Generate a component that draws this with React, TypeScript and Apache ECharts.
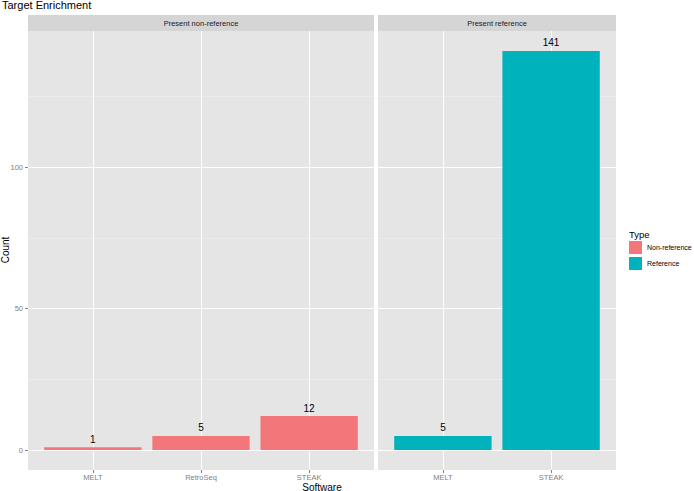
import { useEffect, useRef } from "react";
import * as echarts from "echarts";

const chartTitle = "Target Enrichment";
const panelNames = ["Present non-reference", "Present reference"];
const nonRefSoftware = ["MELT", "RetroSeq", "STEAK"];
const nonRefCounts = [1, 5, 12];
const refSoftware = ["MELT", "STEAK"];
const refCounts = [5, 141];
const typeNames = ["Non-reference", "Reference"];
const typeColors = ["#F3777A", "#00B2BC"];
const yTicks = [0, 50, 100];
const yMinorTicks = [25, 75, 125];
const yMin = -7.05;
const yMax = 148.05;

const font = "'Liberation Sans', Arial, Helvetica, sans-serif";
const axisGrey = "#7f7f7f";

const panels = [
  { left: 28, width: 346, cats: nonRefSoftware, counts: nonRefCounts },
  { left: 378, width: 238, cats: refSoftware, counts: refCounts },
];
const gridTop = 31;
const gridHeight = 439;

export default function App() {
  const ref = useRef<HTMLDivElement>(null);
  useEffect(() => {
    if (!ref.current) return;
    const chart = echarts.init(ref.current, null, { renderer: "svg" });

    const grids = panels.map((p) => ({
      left: p.left,
      top: gridTop,
      width: p.width,
      height: gridHeight,
      show: true,
      backgroundColor: "#e5e5e5",
      borderWidth: 0,
    }));

    const xAxes = panels.map((p, gi) => {
      const pos = p.cats.map((_, i) => i + 1);
      return {
        type: "value",
        gridIndex: gi,
        min: 0.4,
        max: p.cats.length + 0.6,
        axisLine: { show: false, onZero: false },
        axisTick: { show: true, customValues: pos, length: 3, lineStyle: { color: axisGrey } },
        axisLabel: {
          show: true,
          customValues: pos,
          formatter: (v: number) => p.cats[Math.round(v) - 1] ?? "",
          fontSize: 7.5,
          color: axisGrey,
          margin: 3,
          fontFamily: font,
        },
        splitLine: { show: true, lineStyle: { color: "#ffffff", width: 1 } },
      };
    });

    const yAxes: any[] = [];
    panels.forEach((_, gi) => {
      yAxes.push({
        type: "value",
        gridIndex: gi,
        min: yMin,
        max: yMax,
        axisLine: { show: false, onZero: false },
        axisTick: { show: gi === 0, customValues: yTicks, length: 3, lineStyle: { color: axisGrey } },
        axisLabel: {
          show: gi === 0,
          customValues: yTicks,
          fontSize: 7.5,
          color: axisGrey,
          margin: 5,
          fontFamily: font,
        },
        splitLine: { show: true, lineStyle: { color: "#ffffff", width: 1 } },
      });
      yAxes.push({
        type: "value",
        gridIndex: gi,
        min: yMin,
        max: yMax,
        axisLine: { show: false, onZero: false },
        axisTick: { show: false, customValues: yMinorTicks },
        axisLabel: { show: false, customValues: yMinorTicks },
        splitLine: { show: true, lineStyle: { color: "#f2f2f2", width: 0.5 } },
      });
    });

    const series = panels.map((p, gi) => ({
      type: "bar",
      name: typeNames[gi],
      xAxisIndex: gi,
      yAxisIndex: gi * 2,
      data: p.counts.map((v, i) => [i + 1, v]),
      barWidth: "90%",
      itemStyle: { color: typeColors[gi] },
      label: {
        show: true,
        position: "top",
        distance: 3,
        fontSize: 10,
        color: "#000",
        fontFamily: font,
        formatter: (prm: any) => String(prm.value[1]),
      },
    }));

    const graphic: any[] = [
      {
        type: "text",
        left: 2,
        top: -1,
        style: { text: chartTitle, fontSize: 11, fill: "#000", fontFamily: font },
      },
      {
        type: "text",
        x: 322,
        y: 487,
        style: { text: "Software", fontSize: 10, fill: "#000", fontFamily: font, align: "center", verticalAlign: "middle" },
      },
      {
        type: "text",
        x: 5,
        y: 250,
        rotation: Math.PI / 2,
        style: { text: "Count", fontSize: 10, fill: "#000", fontFamily: font, align: "center", verticalAlign: "middle" },
      },
      {
        type: "text",
        x: 629,
        y: 234,
        style: { text: "Type", fontSize: 9.5, fill: "#000", fontFamily: font, align: "left", verticalAlign: "middle" },
      },
    ];
    panels.forEach((p, gi) => {
      graphic.push({
        type: "rect",
        shape: { x: p.left, y: 15, width: p.width, height: 16 },
        style: { fill: "#d5d5d5" },
      });
      graphic.push({
        type: "text",
        x: p.left + p.width / 2,
        y: 23,
        style: { text: panelNames[gi], fontSize: 7.5, fill: "#1a1a1a", fontFamily: font, align: "center", verticalAlign: "middle" },
      });
    });

    chart.setOption({
      animation: false,
      textStyle: { fontFamily: font },
      grid: grids,
      xAxis: xAxes,
      yAxis: yAxes,
      series,
      legend: {
        data: typeNames,
        orient: "vertical",
        left: 629,
        top: 241,
        itemWidth: 13,
        itemHeight: 13,
        itemGap: 3,
        padding: 0,
        icon: "rect",
        selectedMode: false,
        textStyle: { fontSize: 7, color: "#000", fontFamily: font },
      },
      graphic,
    });
    return () => chart.dispose();
  }, []);
  return <div ref={ref} style={{ width: 694, height: 491, position: "absolute", left: 0, top: 0 }} />;
}
